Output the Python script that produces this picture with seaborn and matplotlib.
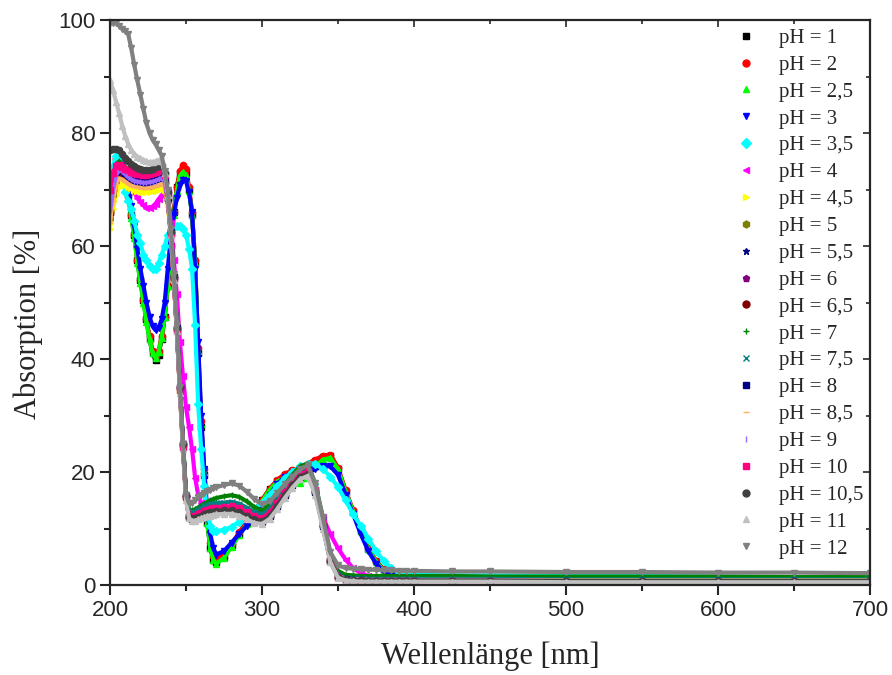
import pandas as pd
import matplotlib
matplotlib.use("Agg")
import matplotlib.pyplot as plt
from matplotlib.lines import Line2D
from matplotlib.ticker import MultipleLocator
import seaborn as sns

sns.set_theme(style="ticks")
plt.rcParams["font.family"] = ["Liberation Serif", "DejaVu Serif"]

# Wellenlängen-Raster (nm): dicht im steilen Bereich, grob im flachen Ende
wellenlaenge = list(range(200, 271, 2)) + list(range(275, 401, 5)) + [425, 450, 500, 550, 600, 650, 700]

ph_labels = ["1", "2", "2,5", "3", "3,5", "4", "4,5", "5", "5,5", "6",
             "6,5", "7", "7,5", "8", "8,5", "9", "10", "10,5", "11", "12"]

farben = ["#000000", "#FF0000", "#00FF00", "#0000FF", "#00FFFF", "#FF00FF", "#FFFF00", "#808000", "#000080", "#800080",
          "#800000", "#008000", "#008080", "#000080", "#FFB060", "#9966FF", "#FF0080", "#404040", "#C0C0C0", "#808080"]

marker = ["s", "o", "^", "v", "D", "<", ">", "h", "*", "p",
          "o", "+", "x", "s", "_", "|", "s", "o", "^", "v"]

# Absorption 200-238 nm (je 2 nm)
kopf_1 = [67, 72, 75, 76, 75, 72.5, 69, 65.5, 62, 57.5, 54, 50.5, 47, 43.5, 41, 39.8, 40.8, 43.5, 47.5, 53]
kopf_2 = [66, 72, 75.5, 76.5, 75, 72.5, 69, 65.5, 62, 57.5, 54, 50.5, 47, 44, 41.5, 40.5, 41.5, 44, 47.5, 53]
kopf_2_5 = [65, 71.5, 75, 76, 74.5, 72, 68.5, 65, 61.5, 57, 53.5, 50, 46.5, 43.5, 41, 40.2, 41.2, 43.8, 47.5, 53]
kopf_3 = [68, 72.5, 75, 76, 75, 72.5, 70, 67, 63.5, 59.5, 56, 53, 50, 47.5, 45.8, 45.1, 45.5, 47, 50, 56]
kopf_3_5 = [70, 74, 76, 75, 72.5, 69.5, 68, 66.5, 64.5, 62, 60.5, 58.5, 57.5, 56.5, 56, 56, 57, 58.5, 60, 62]
kopf_4 = [66, 70, 72.5, 73.5, 73.5, 72.5, 71.5, 70.5, 69.5, 68.5, 67.8, 67.2, 66.8, 66.7, 67, 67.5, 68.3, 69, 69.5, 69.5]
kopf_4_5 = [63, 66.5, 69, 70.5, 71, 70.8, 70.5, 70.2, 70, 69.8, 69.7, 69.6, 69.6, 69.6, 69.7, 69.8, 70, 70.2, 70, 67.5]
kopf_5 = [65, 69, 71.5, 72.5, 72.5, 72, 71.5, 71.2, 71, 70.9, 70.8, 70.7, 70.7, 70.7, 70.8, 71, 71.2, 71.5, 71, 68]
kopf_5_5 = [66, 70, 72.5, 73.5, 73, 72.5, 72, 71.6, 71.4, 71.3, 71.2, 71.1, 71.1, 71.1, 71.2, 71.4, 71.6, 71.8, 71.2, 68.2]
kopf_6 = [67, 70.5, 73, 73.5, 73, 72.5, 72, 71.7, 71.5, 71.4, 71.3, 71.2, 71.2, 71.3, 71.4, 71.6, 71.8, 72, 71.4, 68.4]
kopf_6_5 = [66, 70, 72.5, 73, 72.7, 72.2, 71.7, 71.4, 71.2, 71.1, 71, 70.9, 70.9, 71, 71.1, 71.3, 71.5, 71.7, 71.2, 68.2]
kopf_7 = [68, 72, 74.5, 75, 74.5, 74, 73.5, 73.1, 72.8, 72.6, 72.5, 72.4, 72.4, 72.4, 72.5, 72.7, 73, 73.2, 72.5, 69]
kopf_7_5 = [67, 71, 73.5, 74.5, 74, 73.5, 73, 72.6, 72.3, 72.1, 72, 71.9, 71.9, 72, 72.1, 72.3, 72.5, 72.7, 72, 68.8]
kopf_8 = [66, 70.5, 73, 74, 73.5, 73, 72.4, 72, 71.7, 71.5, 71.4, 71.3, 71.3, 71.4, 71.5, 71.7, 71.9, 72.1, 71.5, 68.5]
kopf_8_5 = [64, 68, 71, 72, 71.8, 71.4, 71, 70.7, 70.5, 70.4, 70.3, 70.2, 70.2, 70.3, 70.4, 70.6, 70.8, 71, 70.5, 67.8]
kopf_9 = [66, 70, 72.5, 73.5, 73.2, 72.7, 72.2, 71.8, 71.5, 71.4, 71.3, 71.2, 71.2, 71.3, 71.4, 71.6, 71.8, 72, 71.4, 68.4]
kopf_10 = [70, 73, 74.2, 74.3, 74, 73.7, 73.4, 73.1, 72.9, 72.8, 72.7, 72.6, 72.6, 72.7, 72.9, 73.1, 73.3, 73.5, 72.5, 69]
kopf_10_5 = [77, 77.2, 77.2, 77, 76.3, 75.5, 75, 74.5, 74.1, 73.9, 73.7, 73.5, 73.4, 73.5, 73.7, 74, 74.2, 74.3, 73, 69.5]
kopf_11 = [89.4, 87.6, 85.5, 83.5, 81.3, 79.5, 78, 77, 76.3, 75.8, 75.5, 75.2, 75, 74.8, 74.8, 75, 75.2, 75, 73, 69]
kopf_12 = [99.5, 99.5, 99.5, 99, 98.5, 98, 97.5, 95, 92, 89.3, 86.8, 84.2, 81.7, 80, 78.8, 78, 77, 76, 73.3, 70]

# Absorption 240-700 nm
rest_1 = [60, 66, 70.5, 73, 73.8, 73, 70, 65.5, 57, 41, 28, 19.5, 11, 6.5, 4.5, 4,
          5, 7, 9, 11, 13, 15, 17, 18.5, 19.5, 20.2, 20.7, 21.3, 22, 22.6, 22.8, 20.5, 16.5, 13, 9.5, 6.3, 4.2, 2.7, 1.9, 1.4, 1.2, 1.1,
          1.0, 0.9, 0.9, 0.8, 0.8, 0.8, 0.7]
rest_2 = [60, 66, 70.5, 73.2, 74.3, 73.7, 70.5, 66, 57.5, 42, 29, 20.5, 12, 7.5, 5.2, 4.6,
          5.5, 7.3, 9.3, 11.3, 13.2, 15, 17, 18.6, 19.7, 20.3, 20.8, 21.5, 22.2, 22.9, 23.1, 20.8, 16.8, 13.2, 9.7, 6.5, 4.3, 2.8, 1.9, 1.4, 1.2, 1.1,
          1.0, 0.9, 0.9, 0.8, 0.8, 0.8, 0.7]
rest_2_5 = [59.5, 65.5, 69.8, 72.4, 73.1, 72.6, 69.8, 65.5, 57, 41.5, 28.5, 20, 11, 6.5, 4.4, 3.8,
            4.8, 6.8, 8.8, 10.8, 12.8, 14.8, 16.8, 18.3, 19, 18.8, 18, 19, 21, 22.2, 22.5, 20.5, 16.5, 13, 9.5, 6.3, 4.1, 2.6, 1.8, 1.4, 1.2, 1.1,
            1.0, 1.0, 0.9, 0.9, 0.9, 0.9, 0.9]
rest_3 = [61.5, 65.5, 68.5, 70.8, 71.7, 71.5, 69.5, 66, 56, 43, 30, 20.5, 13, 9, 6.5, 5.4,
          6, 7.5, 9, 10.5, 12.2, 14, 16, 17.8, 19.2, 19.8, 20, 20, 20.5, 21, 21, 19.5, 16, 12.5, 9, 6, 3.8, 2.4, 1.6, 1.2, 1.0, 0.9,
          0.8, 0.8, 0.7, 0.7, 0.7, 0.6, 0.6]
rest_3_5 = [63, 63.5, 63.5, 63.5, 63, 62, 59.5, 56, 46, 32, 24, 17.5, 13, 10.5, 9.6, 9.5,
            9.8, 10.3, 11.2, 12.3, 13.5, 14.6, 16, 17.5, 19, 20, 21, 21.5, 21.5, 20.5, 19.2, 17.3, 15, 12.5, 10.5, 8.2, 6, 4.3, 3, 2.3, 2, 1.8,
            1.7, 1.7, 1.6, 1.6, 1.5, 1.4, 1.4]
rest_4 = [64, 57.5, 51.5, 43, 37, 31.5, 28, 24, 19, 16, 14.5, 13.5, 13, 12.8, 12.8, 12.9,
          13, 13, 12.6, 12, 11.4, 11.2, 12.5, 14.8, 17, 18.8, 20, 20.2, 16.8, 12, 9, 6.5, 4.5, 3, 2.1, 1.6, 1.3, 1.1, 1.0, 0.9, 0.9, 0.9,
          0.8, 0.8, 0.8, 0.7, 0.7, 0.7, 0.7]
rest_mitte_a = [62, 54, 45, 34.5, 24.5, 15.5, 12.2, 11.8, 12, 12.3, 12.6, 12.9, 13.1, 13.3, 13.4, 13.5,
                13.6, 13.7, 13.4, 12.7, 12, 11.7, 12.6, 14.4, 16.4, 18.1, 19.5, 20, 16.8, 10.8, 4.5, 1.6, 1.1, 1.0, 1.0, 0.9, 0.9, 0.9, 0.9, 0.9, 0.9, 0.9,
                0.9, 0.9, 0.8, 0.8, 0.8, 0.8, 0.8]
rest_mitte_b = [62.5, 54.5, 45.5, 35, 25, 15.8, 12, 11.6, 11.8, 12, 12.3, 12.5, 12.7, 12.9, 13, 13.1,
                13.2, 13.2, 12.9, 12.2, 11.6, 11.3, 12.2, 14, 16, 17.7, 19.2, 19.7, 16.5, 10.5, 4.3, 1.5, 1.0, 0.9, 0.9, 0.8, 0.8, 0.8, 0.8, 0.8, 0.8, 0.8,
                0.8, 0.8, 0.7, 0.7, 0.7, 0.7, 0.7]
rest_7 = [63, 55, 46, 35.5, 25.5, 16.5, 13.3, 13.2, 13.4, 13.7, 14.1, 14.4, 14.7, 15, 15.2, 15.4,
          15.7, 15.9, 15.6, 14.8, 13.8, 13.2, 14.2, 16, 17.8, 19.5, 21, 21.5, 18, 12, 5.5, 2.5, 1.8, 1.7, 1.6, 1.6, 1.6, 1.6, 1.6, 1.6, 1.6, 1.6,
          1.6, 1.5, 1.5, 1.5, 1.5, 1.4, 1.4]
rest_7_5 = [62.5, 54.5, 45.5, 35, 25, 16, 13, 12.8, 13, 13.3, 13.6, 13.9, 14.1, 14.3, 14.4, 14.5,
            14.6, 14.7, 14.4, 13.7, 12.9, 12.5, 13.4, 15.2, 17, 18.7, 20.2, 20.8, 17.4, 11.3, 4.8, 1.8, 1.3, 1.2, 1.2, 1.1, 1.1, 1.1, 1.1, 1.1, 1.1, 1.1,
            1.1, 1.1, 1.0, 1.0, 1.0, 1.0, 1.0]
rest_10 = [62, 54, 45, 34.5, 24.5, 15.5, 12.3, 12, 12.2, 12.5, 12.8, 13.1, 13.3, 13.5, 13.6, 13.7,
           13.8, 13.9, 13.6, 12.9, 12.2, 11.9, 12.8, 14.6, 16.5, 18.2, 19.6, 20.1, 16.8, 10.8, 4.5, 1.5, 0.9, 0.8, 0.7, 0.7, 0.7, 0.7, 0.7, 0.7, 0.7, 0.7,
           0.7, 0.7, 0.6, 0.6, 0.6, 0.6, 0.6]
rest_11 = [62, 54, 45, 34, 24, 15, 11.8, 11.3, 11.4, 11.6, 11.8, 12, 12.2, 12.3, 12.4, 12.5,
           12.6, 12.6, 12.3, 11.6, 11, 10.8, 11.7, 13.4, 15.4, 17.2, 18.7, 19.3, 16, 10, 4, 1.3, 0.8, 0.7, 0.6, 0.6, 0.6, 0.6, 0.6, 0.6, 0.6, 0.6,
           0.6, 0.6, 0.5, 0.5, 0.5, 0.5, 0.5]
rest_12 = [63, 55, 46, 35, 25, 16, 14.5, 14.5, 15, 15.5, 16, 16.3, 16.6, 16.9, 17.1, 17.3,
           17.7, 18, 17.6, 16.5, 15.2, 14.3, 14.8, 16.3, 17.8, 19.2, 20.5, 21.2, 18, 12, 5.8, 3.5, 3, 2.9, 2.8, 2.7, 2.7, 2.6, 2.6, 2.5, 2.5, 2.5,
           2.4, 2.4, 2.3, 2.3, 2.2, 2.2, 2.1]

kurven = [kopf_1 + rest_1, kopf_2 + rest_2, kopf_2_5 + rest_2_5, kopf_3 + rest_3, kopf_3_5 + rest_3_5,
          kopf_4 + rest_4, kopf_4_5 + rest_mitte_a, kopf_5 + rest_mitte_a, kopf_5_5 + rest_mitte_b, kopf_6 + rest_mitte_a,
          kopf_6_5 + rest_mitte_b, kopf_7 + rest_7, kopf_7_5 + rest_7_5, kopf_8 + rest_mitte_b, kopf_8_5 + rest_mitte_a,
          kopf_9 + rest_mitte_b, kopf_10 + rest_10, kopf_10_5 + rest_mitte_b, kopf_11 + rest_11, kopf_12 + rest_12]

# Long-Format DataFrame
zeilen = []
for lab, werte in zip(ph_labels, kurven):
    for w, a in zip(wellenlaenge, werte):
        zeilen.append({"pH": lab, "Wellenlaenge": w, "Absorption": a})
df = pd.DataFrame(zeilen)

fig = plt.figure(figsize=(8.92, 6.75), dpi=100)
ax = fig.add_axes([0.1233, 0.1333, 0.852, 0.837])

handles = []
for lab, farbe, m in zip(ph_labels, farben, marker):
    teil = df[df["pH"] == lab]
    sns.lineplot(data=teil, x="Wellenlaenge", y="Absorption", color=farbe, marker=m,
                 markersize=4.5, markeredgecolor=farbe, markeredgewidth=1.0,
                 linewidth=3.0, sort=False, legend=False, ax=ax)
    handles.append(Line2D([], [], linestyle="none", marker=m, color=farbe, markeredgecolor=farbe,
                          markersize=5, label=f"pH = {lab}"))

ax.set_xlim(200, 700)
ax.set_ylim(0, 100)
ax.xaxis.set_major_locator(MultipleLocator(100))
ax.xaxis.set_minor_locator(MultipleLocator(50))
ax.yaxis.set_major_locator(MultipleLocator(20))
ax.yaxis.set_minor_locator(MultipleLocator(10))
ax.tick_params(which="major", direction="out", length=7, width=1.5)
ax.tick_params(which="minor", direction="out", length=4, width=1.5)
for lbl in ax.get_xticklabels() + ax.get_yticklabels():
    lbl.set_family(["Liberation Sans", "DejaVu Sans"])
    lbl.set_fontsize(16)
for sp in ax.spines.values():
    sp.set_linewidth(1.6)
    sp.set_visible(True)

# Ticks nach innen oben / rechts
oben = ax.secondary_xaxis("top")
oben.xaxis.set_major_locator(MultipleLocator(100))
oben.xaxis.set_minor_locator(MultipleLocator(50))
oben.tick_params(which="both", direction="in", labeltop=False, width=1.2)
oben.tick_params(which="major", length=5)
oben.tick_params(which="minor", length=3)
rechts = ax.secondary_yaxis("right")
rechts.yaxis.set_major_locator(MultipleLocator(20))
rechts.yaxis.set_minor_locator(MultipleLocator(10))
rechts.tick_params(which="both", direction="in", labelright=False, width=1.2)
rechts.tick_params(which="major", length=5)
rechts.tick_params(which="minor", length=3)

ax.set_xlabel("Wellenlänge [nm]", fontsize=22, labelpad=15)
ax.set_ylabel("Absorption [%]", fontsize=22)
ax.yaxis.set_label_coords(-0.088, 0.462)

ax.legend(handles=handles, loc="upper left", bbox_to_anchor=(0.812, 1.0), borderaxespad=0,
          frameon=False, fontsize=15, handlelength=1.0, handletextpad=1.1, labelspacing=0.35)

fig.savefig("out.png", dpi=100)
